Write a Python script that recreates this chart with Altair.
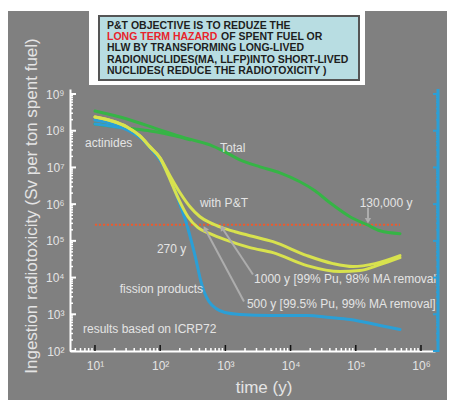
import altair as alt
import pandas as pd

W, H = 365, 262
XDOM = [4.14, 1.64e6]
YDOM = [100, 1.37e9]

# ---- curve data as log10(time / y) and log10(Sv per ton) ----
total_lt = [1.000, 1.491, 1.997, 2.380, 2.764, 2.994, 3.224, 3.531, 3.837, 4.144, 4.374, 4.604, 4.911, 5.172, 5.371, 5.678]
total_lv = [8.538, 8.321, 8.022, 7.804, 7.614, 7.424, 7.207, 7.016, 6.853, 6.609, 6.364, 6.038, 5.658, 5.440, 5.277, 5.196]

act_lt = [1.000, 1.353, 1.613, 1.844, 2.028, 2.227, 2.457]
act_lv = [8.185, 8.103, 8.049, 7.995, 7.940, 7.859, 7.750]

fp_lt = [1.000, 1.230, 1.414, 1.583, 1.736, 1.874, 1.997, 2.104, 2.212, 2.304, 2.396, 2.472, 2.549,
         2.610, 2.672, 2.748, 2.856, 2.994, 3.224, 3.684, 4.252, 4.604, 4.911, 5.371, 5.678]
fp_lv = [8.185, 8.130, 8.076, 7.940, 7.750, 7.478, 7.207, 6.880, 6.446, 5.984, 5.522, 5.033, 4.489,
         4.000, 3.620, 3.348, 3.158, 3.049, 2.995, 2.967, 2.967, 2.913, 2.859, 2.696, 2.587]

blue2_lt = [1.000, 1.230, 1.460, 1.690]
blue2_lv = [8.293, 8.212, 8.103, 7.859]

pt_common_lt = [1.000, 1.261, 1.491, 1.690, 1.844, 1.997]
pt_common_lv = [8.375, 8.266, 8.103, 7.859, 7.560, 7.261]
pt1000_lt = pt_common_lt + [2.150, 2.304, 2.457, 2.610, 2.764, 2.948, 3.147, 3.377, 3.730, 4.252, 4.650, 4.957, 5.294, 5.678]
pt1000_lv = pt_common_lv + [6.772, 6.310, 5.929, 5.658, 5.495, 5.359, 5.250, 5.141, 4.978, 4.598, 4.380, 4.299, 4.380, 4.598]
pt500_lt = pt_common_lt + [2.120, 2.273, 2.426, 2.580, 2.764, 2.994, 3.377, 3.730, 4.252, 4.758, 5.064, 5.371, 5.678]
pt500_lv = pt_common_lv + [6.799, 6.174, 5.658, 5.359, 5.196, 5.033, 4.815, 4.679, 4.326, 4.163, 4.190, 4.353, 4.543]

ref_lv = 5.44
ref_lt = [1.0, 5.678]

# arrows: tail -> tip
arrow_lt1 = [3.285, 3.423, 5.187]
arrow_lv1 = [3.348, 4.082, 5.902]
arrow_lt2 = [2.687, 2.948, 5.187]
arrow_lv2 = [5.332, 5.359, 5.550]
arrow_ang = [332, 327, 180]

# labels
lab_text = ["actinides", "Total", "with P&T", "130,000 y", "270 y", "fission products",
            "results based on ICRP72", "1000 y [99% Pu, 98% MA removal]",
            "500 y [99.5% Pu, 99% MA removal]"]
lab_lt = [0.847, 2.917, 2.610, 5.060, 1.950, 1.380, 0.816, 3.440, 3.330]
lab_lv = [7.670, 7.530, 6.040, 6.040, 4.790, 3.700, 2.610, 3.970, 3.290]

box_lines = ["P&T OBJECTIVE IS TO REDUZE THE", "LONG TERM HAZARD", "OF SPENT FUEL OR",
             "HLW BY TRANSFORMING LONG-LIVED", "RADIONUCLIDES(MA, LLFP)INTO SHORT-LIVED",
             "NUCLIDES( REDUCE THE RADIOTOXICITY )"]

x_ticks = [10, 100, 1000, 10000, 100000, 1000000]
y_ticks = [1e2, 1e3, 1e4, 1e5, 1e6, 1e7, 1e8, 1e9]
x_minor = [m * 10 ** k for k in range(0, 7) for m in range(2, 10) if XDOM[0] <= m * 10 ** k <= XDOM[1]]
y_minor = [m * 10 ** k for k in range(2, 10) for m in range(2, 10) if m * 10 ** k <= YDOM[1]]


def p10(vals):
    return [10 ** e for e in vals]


SUP = "['⁰','¹','²','³','⁴','⁵','⁶','⁷','⁸','⁹']"
LBL = "'10' + " + SUP + "[round(log(datum.value)/LN10)]"

FONT = "Liberation Sans"
LIGHT = "#e4e4e4"
GREEN = "#36b446"
YELLOW = "#d8e24e"
BLUE = "#2b9fd6"

xs = alt.Scale(type="log", domain=XDOM, nice=False)
ys = alt.Scale(type="log", domain=YDOM, nice=False)
xaxis = alt.Axis(values=x_ticks, labelExpr=LBL, title=None, ticks=False, grid=False,
                 domainColor="white", domainWidth=2, labelColor=LIGHT, labelFontSize=12,
                 labelFont=FONT, labelPadding=9, labelFlush=False, labelOverlap=False)
yaxis = alt.Axis(values=y_ticks, labelExpr=LBL, title=None, ticks=False, grid=False,
                 domainColor="white", domainWidth=2, labelColor=LIGHT, labelFontSize=12,
                 labelFont=FONT, labelPadding=6, labelOverlap=False)


def X(f="t"):
    return alt.X(f + ":Q", scale=xs, axis=xaxis)


def Y(f="v"):
    return alt.Y(f + ":Q", scale=ys, axis=yaxis)


def line(lts, lvs, color, width=3):
    df = pd.DataFrame({"t": p10(lts), "v": p10(lvs), "o": list(range(len(lts)))})
    return alt.Chart(df).mark_line(color=color, strokeWidth=width, interpolate="monotone",
                                   strokeCap="round").encode(x=X(), y=Y(), order="o:Q")


one = alt.Data(values=[{"a": 1}])


def vrect(x, x2, y, y2, **kw):
    return alt.Chart(one).mark_rect(**kw).encode(
        x=alt.value(x), x2=alt.value(x2), y=alt.value(y), y2=alt.value(y2))


def vtext(txt, x, y, **kw):
    return alt.Chart(one).mark_text(text=txt, **kw).encode(x=alt.value(x), y=alt.value(y))


layers = []
# top decoration: white strip and text box
layers.append(vrect(-62, 377, -81, -78, color="white"))
layers.append(vrect(19, 295, -81, -4, color="white"))
layers.append(vrect(29, 289, -73, -9, fill="#b8dde2", stroke="#555555", strokeWidth=2))
box_y = [-63, -52, -52, -41, -29, -18]
box_x = [37, 37, 151, 37, 37, 37]
box_c = ["#1e1e1e", "#e8232b", "#1e1e1e", "#1e1e1e", "#1e1e1e", "#1e1e1e"]
for s, bx, by, bc in zip(box_lines, box_x, box_y, box_c):
    layers.append(vtext(s, bx, by, align="left", baseline="middle", font=FONT,
                        fontSize=10.5, fontWeight="bold", color=bc))

# reference line
ref_df = pd.DataFrame({"t": [10 ** ref_lt[0]], "t2": [10 ** ref_lt[1]], "v": [10 ** ref_lv]})
layers.append(alt.Chart(ref_df).mark_rule(color="#ee5a2c", strokeWidth=2, strokeDash=[2, 2]).encode(
    x=X(), x2="t2:Q", y=Y()))

# curves
layers.append(line(act_lt, act_lv, GREEN))
layers.append(line(total_lt, total_lv, GREEN))
layers.append(line(blue2_lt, blue2_lv, BLUE))
layers.append(line(fp_lt, fp_lv, BLUE))
layers.append(line(pt1000_lt, pt1000_lv, YELLOW))
layers.append(line(pt500_lt, pt500_lv, YELLOW))

# arrows
arr = pd.DataFrame({"t": p10(arrow_lt1), "v": p10(arrow_lv1), "t2": p10(arrow_lt2),
                    "v2": p10(arrow_lv2), "ang": arrow_ang})
layers.append(alt.Chart(arr).mark_rule(color="#adadad", strokeWidth=2).encode(
    x=X(), y=Y(), x2="t2:Q", y2="v2:Q"))
layers.append(alt.Chart(arr).mark_point(shape="triangle-up", filled=True, color="#adadad",
                                        size=40, opacity=1).encode(
    x=X("t2"), y=Y("v2"), angle=alt.Angle("ang:Q", scale=None)))

# labels
lab = pd.DataFrame({"label": lab_text, "t": p10(lab_lt), "v": p10(lab_lv)})
layers.append(alt.Chart(lab).mark_text(align="left", baseline="middle", font=FONT, fontSize=12,
                                       color=LIGHT).encode(x=X(), y=Y(), text="label:N"))

# ticks on left axis (inside), bottom axis (inside), right blue axis
ytk = pd.DataFrame({"v": y_ticks})
ymn = pd.DataFrame({"v": y_minor})
xtk = pd.DataFrame({"t": x_ticks})
xmn = pd.DataFrame({"t": x_minor})
layers.append(alt.Chart(ytk).mark_rule(color="white", strokeWidth=2).encode(
    y=Y(), x=alt.value(0), x2=alt.value(6)))
layers.append(alt.Chart(ymn).mark_rule(color="white", strokeWidth=1.5).encode(
    y=Y(), x=alt.value(0), x2=alt.value(3)))
layers.append(alt.Chart(xmn).mark_rule(color="white", strokeWidth=1.5).encode(
    x=X(), y=alt.value(H), y2=alt.value(H - 3)))
layers.append(alt.Chart(xtk).mark_rule(color="#111111", strokeWidth=1.5).encode(
    x=X(), y=alt.value(H), y2=alt.value(H - 6)))
layers.append(alt.Chart(one).mark_rule(color=BLUE, strokeWidth=3).encode(
    x=alt.value(368), y=alt.value(0), y2=alt.value(H + 1)))
layers.append(alt.Chart(ytk).mark_rule(color=BLUE, strokeWidth=2).encode(
    y=Y(), x=alt.value(368), x2=alt.value(363)))
layers.append(alt.Chart(ymn).mark_rule(color=BLUE, strokeWidth=1.5).encode(
    y=Y(), x=alt.value(368), x2=alt.value(366)))

# axis titles
layers.append(vtext("time (y)", 194, 299, align="center", baseline="middle", font=FONT,
                    fontSize=17, color=LIGHT))
layers.append(vtext("Ingestion  radiotoxicity  (Sv per ton spent fuel)", -38, 117, align="center",
                    baseline="middle", font=FONT, fontSize=17, color=LIGHT, angle=270))

chart = alt.layer(*layers).properties(
    width=W, height=H, background="#808080",
    padding={"left": 62, "top": 81, "right": 12, "bottom": 49},
    autosize=alt.AutoSizeParams(type="none"),
).configure_view(stroke=None)

chart.save("out.html", embed_options={"renderer": "svg", "actions": False})
